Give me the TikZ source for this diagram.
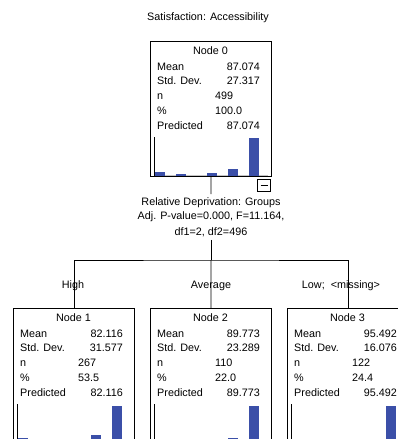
\documentclass[tikz,border=0pt]{standalone}
\usepackage{fontspec}
\setmainfont{Liberation Sans}
\definecolor{barblue}{HTML}{3B4FA8}
\definecolor{basegray}{HTML}{C4C4C4}
\tikzset{
  txt/.style={inner sep=0pt, text height=7.7pt, text depth=0pt, font=\fontsize{10.8}{13}\selectfont},
  nodebox/.style={draw=black, line width=0.9pt, inner sep=0pt, anchor=north west, minimum width=121pt},
  conn/.style={draw=black, line width=0.9pt},
  axisline/.style={draw=black, line width=0.9pt},
  baseline/.style={draw=basegray, line width=0.8pt},
  bar/.style={fill=barblue, draw=none},
}
% #1 name #2 L #3 T #4 title #5 mean #6 sd #7 n #8 pct #9 pred
\newcommand\statrows[9]{%
  \node[txt] (#1-title) at ({#2+60.5},{#3+10}) {#4};
  \node[txt, anchor=west] (#1-ml) at ({#2+7},{#3+26}) {Mean};
  \node[txt, anchor=west] (#1-sl) at ({#2+7},{#3+40}) {Std. Dev.};
  \node[txt, anchor=west] (#1-nl) at ({#2+7},{#3+55}) {n};
  \node[txt, anchor=west] (#1-pl) at ({#2+7},{#3+70}) {\%};
  \node[txt, anchor=west] (#1-rl) at ({#2+7},{#3+85}) {Predicted};
  \node[txt, anchor=east] (#1-mv) at ({#2+110},{#3+26}) {#5};
  \node[txt, anchor=east] (#1-sv) at ({#2+110},{#3+40}) {#6};
  \node[txt, anchor=west] (#1-nv) at ({#2+65},{#3+55}) {#7};
  \node[txt, anchor=west] (#1-pv) at ({#2+65},{#3+70}) {#8};
  \node[txt, anchor=east] (#1-rv) at ({#2+110},{#3+85}) {#9};
  \draw[baseline] ({#2+4},{#3+134.5}) -- ({#2+118},{#3+134.5});
  \draw[axisline] ({#2+4},{#3+96}) -- ({#2+4},{#3+135});
}
% bar: L T offset height
\newcommand\histbar[4]{%
  \fill[barblue] ({#1+#3},{#2+134.5}) rectangle ({#1+#3+10},{#2+134.5-#4});
}
\begin{document}
\begin{tikzpicture}[x=1pt, y=-1pt]
  \useasboundingbox (0,0) rectangle (398,439);
  \clip (0,0) rectangle (398,439);

  \node[txt] (title) at (208,17) {Satisfaction: Accessibility};

  % Node 0
  \node[nodebox, minimum height=135pt] (n0) at (150,41) {};
  \statrows{s0}{150}{41}{Node 0}{87.074}{27.317}{499}{100.0}{87.074}
  \histbar{150}{41}{5}{3.5}
  \histbar{150}{41}{26}{1.5}
  \histbar{150}{41}{57}{2.5}
  \histbar{150}{41}{78}{6.5}
  \histbar{150}{41}{99}{38}
  \draw[black, line width=1.6pt] (150,176.3) -- (271.4,176.3);
  \node[draw=black, line width=0.9pt, minimum width=13pt, minimum height=12pt, inner sep=0pt] (col0) at (264,185) {};
  \draw[black, line width=1pt] ([xshift=-3.5pt]col0.center) -- ([xshift=3.5pt]col0.center);

  % split label
  \node[inner sep=0pt, align=center, font=\fontsize{10.8}{14.5}\selectfont] (split) at (211,217)
    {Relative Deprivation: Groups\\Adj. P-value=0.000, F=11.164,\\[1pt]df1=2, df2=496};
  \draw[conn] (n0.south) -- ([yshift=3pt]split.north);
  \coordinate (hb) at (211,260);
  \draw[conn] ([yshift=-3pt]split.south) -- (hb);

  % child boxes
  \node[nodebox, minimum height=160pt] (n1) at (13,308) {};
  \node[nodebox, minimum height=160pt] (n2) at (150,308) {};
  \node[nodebox, minimum height=160pt] (n3) at (287,308) {};

  \draw[conn] (n1.north) |- (hb) -| (n3.north);
  \draw[conn] (hb) -- (n2.north);

  \node[txt] (lab1) at (73,285) {High};
  \node[txt] (lab2) at (211,285) {Average};
  \node[txt] (lab3) at (341,285) {Low;\ \ <missing>};

  \statrows{s1}{13}{308}{Node 1}{82.116}{31.577}{267}{53.5}{82.116}
  \histbar{13}{308}{5}{4.5}
  \histbar{13}{308}{78}{7.5}
  \histbar{13}{308}{99}{36.5}

  \statrows{s2}{150}{308}{Node 2}{89.773}{23.289}{110}{22.0}{89.773}
  \histbar{150}{308}{78}{5}
  \histbar{150}{308}{99}{36.5}

  \statrows{s3}{287}{308}{Node 3}{95.492}{16.076}{122}{24.4}{95.492}
  \histbar{287}{308}{99}{37}
\end{tikzpicture}
\end{document}
